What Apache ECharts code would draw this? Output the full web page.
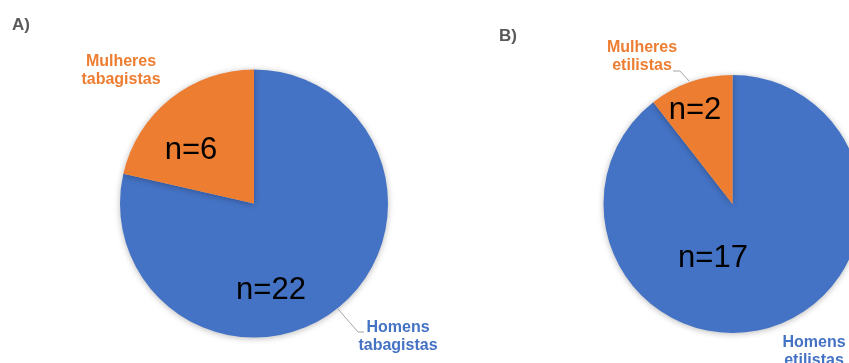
<!DOCTYPE html>
<html>
<head>
<meta charset="utf-8">
<script src="https://cdn.jsdelivr.net/npm/echarts@6/dist/echarts.min.js"></script>
<style>
  html, body { margin: 0; padding: 0; background: #ffffff; }
  #chart { width: 849px; height: 363px; }
</style>
</head>
<body>
<div id="chart"></div>
<script>
// Smoking (A) and drinking (B) participants by sex
const categoriesA = ['Homens tabagistas', 'Mulheres tabagistas'];
const valuesA = [22, 6];
const categoriesB = ['Homens etilistas', 'Mulheres etilistas'];
const valuesB = [17, 2];
const panelLabels = ['A)', 'B)'];

const BLUE = '#4472C4';
const ORANGE = '#ED7D31';
const sliceColors = [BLUE, ORANGE];

// Label placement for each pie: inner count labels and outer name labels
const layoutA = {
  inner: [[271, 290], [191, 150]],
  outer: [[398, 337], [121, 71]],
  lines: [[[338, 309], [358, 332], [364, 332]], null]
};
const layoutB = {
  inner: [[713, 258], [695, 110]],
  outer: [[814, 352], [642, 57]],
  lines: [null, [[689, 81], [680, 71], [673, 71]]]
};

function buildData(cats, vals) {
  return cats.map((name, i) => ({
    name: name,
    value: vals[i],
    itemStyle: { color: sliceColors[i] }
  }));
}

function pieSeries(cats, vals, center, radius, layout) {
  const base = {
    type: 'pie',
    center: center,
    radius: radius,
    startAngle: 90,
    clockwise: true,
    animation: false,
    silent: true
  };
  const filled = Object.assign({}, base, {
    data: buildData(cats, vals),
    itemStyle: {
      borderWidth: 0,
      shadowBlur: 6,
      shadowColor: 'rgba(0,0,0,0.28)',
      shadowOffsetY: 1
    },
    label: {
      show: true,
      position: 'inside',
      formatter: p => 'n=' + p.value,
      color: '#000000',
      fontFamily: 'Liberation Sans, Arial, sans-serif',
      fontSize: 31
    },
    labelLine: { show: false },
    labelLayout: p => ({
      x: layout.inner[p.dataIndex][0],
      y: layout.inner[p.dataIndex][1],
      align: 'center',
      verticalAlign: 'middle'
    })
  });
  const names = Object.assign({}, base, {
    data: cats.map((name, i) => ({
      name: name,
      value: vals[i],
      itemStyle: { color: 'rgba(0,0,0,0)' },
      label: { color: sliceColors[i] },
      labelLine: { show: !!layout.lines[i] }
    })),
    z: 3,
    label: {
      show: true,
      position: 'outside',
      formatter: p => p.name.replace(' ', '\n'),
      fontFamily: 'Liberation Sans, Arial, sans-serif',
      fontWeight: 'bold',
      fontSize: 16,
      lineHeight: 18,
      align: 'center',
      overflow: 'none',
      width: 120
    },
    labelLine: {
      show: true,
      lineStyle: { color: '#A6A6A6', width: 1 }
    },
    labelLayout: p => {
      const res = {
        x: layout.outer[p.dataIndex][0],
        y: layout.outer[p.dataIndex][1],
        align: 'center',
        verticalAlign: 'middle'
      };
      if (layout.lines[p.dataIndex]) {
        res.labelLinePoints = layout.lines[p.dataIndex];
      }
      return res;
    }
  });
  return [filled, names];
}

const chart = echarts.init(document.getElementById('chart'), null, { renderer: 'canvas' });

chart.setOption({
  backgroundColor: '#ffffff',
  animation: false,
  title: [
    {
      text: panelLabels[0], left: 7, top: 12,
      textStyle: { color: '#595959', fontSize: 17, fontWeight: 'bold', fontFamily: 'Liberation Sans, Arial, sans-serif' }
    },
    {
      text: panelLabels[1], left: 494, top: 23,
      textStyle: { color: '#595959', fontSize: 17, fontWeight: 'bold', fontFamily: 'Liberation Sans, Arial, sans-serif' }
    }
  ],
  series: [
    ...pieSeries(categoriesA, valuesA, [254, 203.5], 134, layoutA),
    ...pieSeries(categoriesB, valuesB, [732.5, 204], 129, layoutB)
  ]
});
</script>
</body>
</html>
